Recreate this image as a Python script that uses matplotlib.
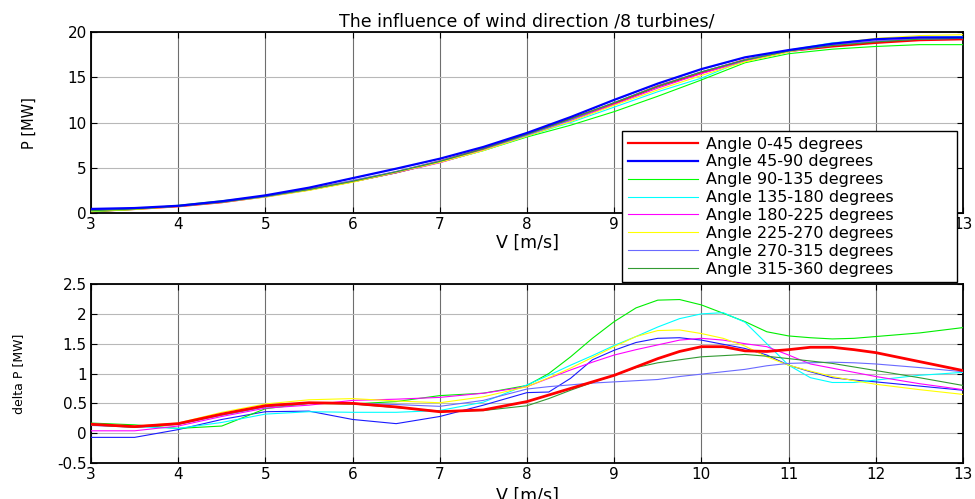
import matplotlib
matplotlib.use("Agg")
import matplotlib.pyplot as plt
from matplotlib.ticker import FuncFormatter

# wind speed grids [m/s]
V_top = [3, 3.5, 4, 4.5, 5, 5.5, 6, 6.5, 7, 7.5, 8, 8.5, 9, 9.5, 10, 10.5, 11, 11.5, 12, 12.5, 13]
V_delta = [3, 3.5, 4, 4.5, 5, 5.5, 6, 6.5, 7, 7.5, 8, 8.25, 8.5, 8.75, 9, 9.25, 9.5, 9.75,
           10, 10.25, 10.5, 10.75, 11, 11.25, 11.5, 11.75, 12, 12.5, 13]

Labels = ["Angle 0-45 degrees", "Angle 45-90 degrees", "Angle 90-135 degrees",
          "Angle 135-180 degrees", "Angle 180-225 degrees", "Angle 225-270 degrees",
          "Angle 270-315 degrees", "Angle 315-360 degrees"]

# power of the farm, P [MW]
P_0_45 = [0.2, 0.45, 0.75, 1.2, 1.85, 2.6, 3.5, 4.5, 5.7, 7.1, 8.7, 10.4, 12.1, 14.0, 15.5, 16.9, 17.9, 18.4, 18.8, 19.1, 19.2]
P_45_90 = [0.45, 0.55, 0.8, 1.3, 1.95, 2.8, 3.85, 4.9, 6.0, 7.3, 8.85, 10.6, 12.5, 14.3, 15.9, 17.2, 18.0, 18.7, 19.2, 19.4, 19.4]
P_90_135 = [0.15, 0.4, 0.85, 1.35, 1.85, 2.55, 3.45, 4.45, 5.6, 6.9, 8.4, 9.7, 11.2, 12.9, 14.7, 16.6, 17.6, 18.1, 18.4, 18.6, 18.6]
P_135_180 = [0.2, 0.45, 0.8, 1.25, 1.85, 2.55, 3.45, 4.5, 5.6, 6.9, 8.5, 10.0, 11.7, 13.4, 14.9, 16.9, 18.0, 18.8, 19.2, 19.4, 19.5]
P_180_225 = [0.3, 0.5, 0.75, 1.2, 1.8, 2.55, 3.45, 4.45, 5.55, 6.95, 8.55, 10.2, 12.0, 13.8, 15.4, 16.8, 17.8, 18.6, 19.0, 19.3, 19.4]
P_225_270 = [0.2, 0.4, 0.75, 1.2, 1.75, 2.5, 3.4, 4.5, 5.6, 6.9, 8.5, 10.1, 11.9, 13.6, 15.2, 16.7, 17.8, 18.7, 19.3, 19.6, 19.7]
P_270_315 = [0.3, 0.5, 0.75, 1.2, 1.8, 2.6, 3.6, 4.6, 5.75, 7.1, 8.6, 10.3, 12.2, 14.0, 15.6, 16.9, 17.9, 18.5, 19.0, 19.2, 19.3]
P_315_360 = [0.25, 0.45, 0.75, 1.2, 1.85, 2.6, 3.5, 4.55, 5.7, 7.1, 8.7, 10.4, 12.2, 14.0, 15.6, 16.9, 17.9, 18.5, 18.9, 19.2, 19.3]

# delta P [MW]
D_0_45 = [0.15, 0.11, 0.16, 0.32, 0.46, 0.51, 0.5, 0.44, 0.36, 0.39, 0.53, 0.64, 0.75, 0.86, 0.97, 1.11, 1.25, 1.37,
          1.45, 1.45, 1.38, 1.37, 1.40, 1.44, 1.44, 1.40, 1.35, 1.2, 1.05]
D_45_90 = [-0.07, -0.07, 0.06, 0.23, 0.36, 0.37, 0.23, 0.16, 0.28, 0.47, 0.68, 0.69, 0.92, 1.23, 1.39, 1.52, 1.59, 1.6,
           1.56, 1.49, 1.42, 1.31, 1.14, 1.03, 0.93, 0.89, 0.86, 0.79, 0.72]
D_90_135 = [0.17, 0.14, 0.08, 0.12, 0.41, 0.5, 0.49, 0.53, 0.63, 0.67, 0.8, 1.0, 1.28, 1.59, 1.87, 2.1, 2.23, 2.24,
            2.15, 2.01, 1.87, 1.7, 1.63, 1.6, 1.58, 1.59, 1.62, 1.68, 1.77]
D_135_180 = [0.16, 0.11, 0.08, 0.18, 0.32, 0.36, 0.35, 0.35, 0.38, 0.52, 0.81, 0.97, 1.14, 1.3, 1.47, 1.62, 1.78, 1.92,
             2.0, 2.02, 1.86, 1.5, 1.14, 0.93, 0.85, 0.85, 0.89, 0.97, 1.02]
D_180_225 = [0.04, 0.04, 0.12, 0.28, 0.42, 0.47, 0.55, 0.57, 0.6, 0.67, 0.78, 0.92, 1.06, 1.19, 1.31, 1.4, 1.48, 1.56,
             1.59, 1.56, 1.5, 1.45, 1.31, 1.16, 1.09, 1.02, 0.95, 0.83, 0.73]
D_225_270 = [0.15, 0.12, 0.17, 0.35, 0.49, 0.56, 0.58, 0.54, 0.51, 0.61, 0.78, 0.93, 1.09, 1.27, 1.45, 1.62, 1.72, 1.73,
             1.67, 1.59, 1.46, 1.28, 1.14, 1.04, 0.95, 0.88, 0.82, 0.73, 0.65]
D_270_315 = [0.13, 0.1, 0.15, 0.3, 0.44, 0.5, 0.5, 0.48, 0.45, 0.55, 0.74, 0.78, 0.81, 0.84, 0.86, 0.88, 0.9, 0.95,
             0.99, 1.03, 1.07, 1.13, 1.17, 1.18, 1.19, 1.18, 1.16, 1.1, 1.03]
D_315_360 = [0.14, 0.1, 0.15, 0.32, 0.46, 0.51, 0.49, 0.43, 0.37, 0.38, 0.46, 0.58, 0.72, 0.85, 0.97, 1.1, 1.18, 1.23,
             1.28, 1.3, 1.32, 1.29, 1.25, 1.21, 1.17, 1.11, 1.05, 0.93, 0.8]

TopSeries = [P_0_45, P_45_90, P_90_135, P_135_180, P_180_225, P_225_270, P_270_315, P_315_360]
DeltaSeries = [D_0_45, D_45_90, D_90_135, D_135_180, D_180_225, D_225_270, D_270_315, D_315_360]

XTicks = [3, 4, 5, 6, 7, 8, 9, 10, 11, 12, 13]
PTicks = [0, 5, 10, 15, 20]
DTicks = [-0.5, 0, 0.5, 1, 1.5, 2, 2.5]

Colors = ["#ff0000", "#0000ff", "#00ff00", "#00ffff", "#ff00ff", "#ffff00", "#6a6aff", "#329a32"]
TopWidths = [1.6, 1.6, 0.8, 0.8, 0.8, 0.8, 0.8, 0.8]
DeltaColors = ["#ff0000", "#1a1aff", "#00ee00", "#00ffff", "#ff00ff", "#ffff00", "#6a6aff", "#329a32"]
DeltaWidths = [2.0, 0.8, 0.8, 0.8, 0.8, 0.8, 0.8, 0.8]

plt.rcParams['font.family'] = ['DejaVu Sans']

Fig = plt.figure(figsize=(9.75, 4.99), dpi=100)
AxTop = Fig.add_axes([0.0933, 0.5731, 0.8944, 0.3628])
AxBot = Fig.add_axes([0.0933, 0.0721, 0.8944, 0.3587])


def StyleAxes(Ax, YTicks, YLim):
    Ax.set_xlim(3, 13)
    Ax.set_ylim(*YLim)
    Ax.set_xticks(XTicks)
    Ax.set_yticks(YTicks)
    Ax.yaxis.set_major_formatter(FuncFormatter(lambda v, p: "%g" % v))
    Ax.tick_params(direction='in', top=True, right=True, length=4, width=0.8,
                   labelsize=11, pad=3, colors='black')
    Ax.grid(axis='x', color='#6e6e6e', linewidth=0.8)
    Ax.grid(axis='y', color='#b8b8b8', linewidth=0.8)
    Ax.set_axisbelow(True)
    for s in Ax.spines.values():
        s.set_linewidth(1.3)


Handles = []
for i in range(8):
    h, = AxTop.plot(V_top, TopSeries[i], color=Colors[i], linewidth=TopWidths[i], label=Labels[i],
                    zorder=3 if i != 1 else 4)
    Handles.append(h)
StyleAxes(AxTop, PTicks, (0, 20))
AxTop.set_title("The influence of wind direction /8 turbines/", fontsize=12.5, pad=4)
AxTop.set_xlabel("V [m/s]", fontsize=12.5)
AxTop.xaxis.set_label_coords(0.501, -0.112)
AxTop.set_ylabel("P [MW]", fontsize=10.5)
AxTop.yaxis.set_label_coords(-0.062, 0.497)

for i in range(8):
    AxBot.plot(V_delta, DeltaSeries[i], color=DeltaColors[i], linewidth=DeltaWidths[i],
               zorder=4 if i == 0 else 3)
StyleAxes(AxBot, DTicks, (-0.5, 2.5))
AxBot.set_xlabel("V [m/s]", fontsize=12.5)
AxBot.xaxis.set_label_coords(0.501, -0.135)
AxBot.set_ylabel("delta P [MW]", fontsize=9)
AxBot.yaxis.set_label_coords(-0.076, 0.497)

Leg = Fig.legend(handles=Handles, loc='upper left', bbox_to_anchor=(0.638, 0.7375, 0.3435, 0.0),
                 mode='expand', fontsize=11.5, handlelength=4.4, handletextpad=0.5, labelspacing=0.18,
                 borderpad=0.35, borderaxespad=0.0, fancybox=False, framealpha=1, edgecolor='black')
Leg.get_frame().set_linewidth(1.0)
Leg.set_zorder(10)

Fig.savefig("out.png", dpi=100)
